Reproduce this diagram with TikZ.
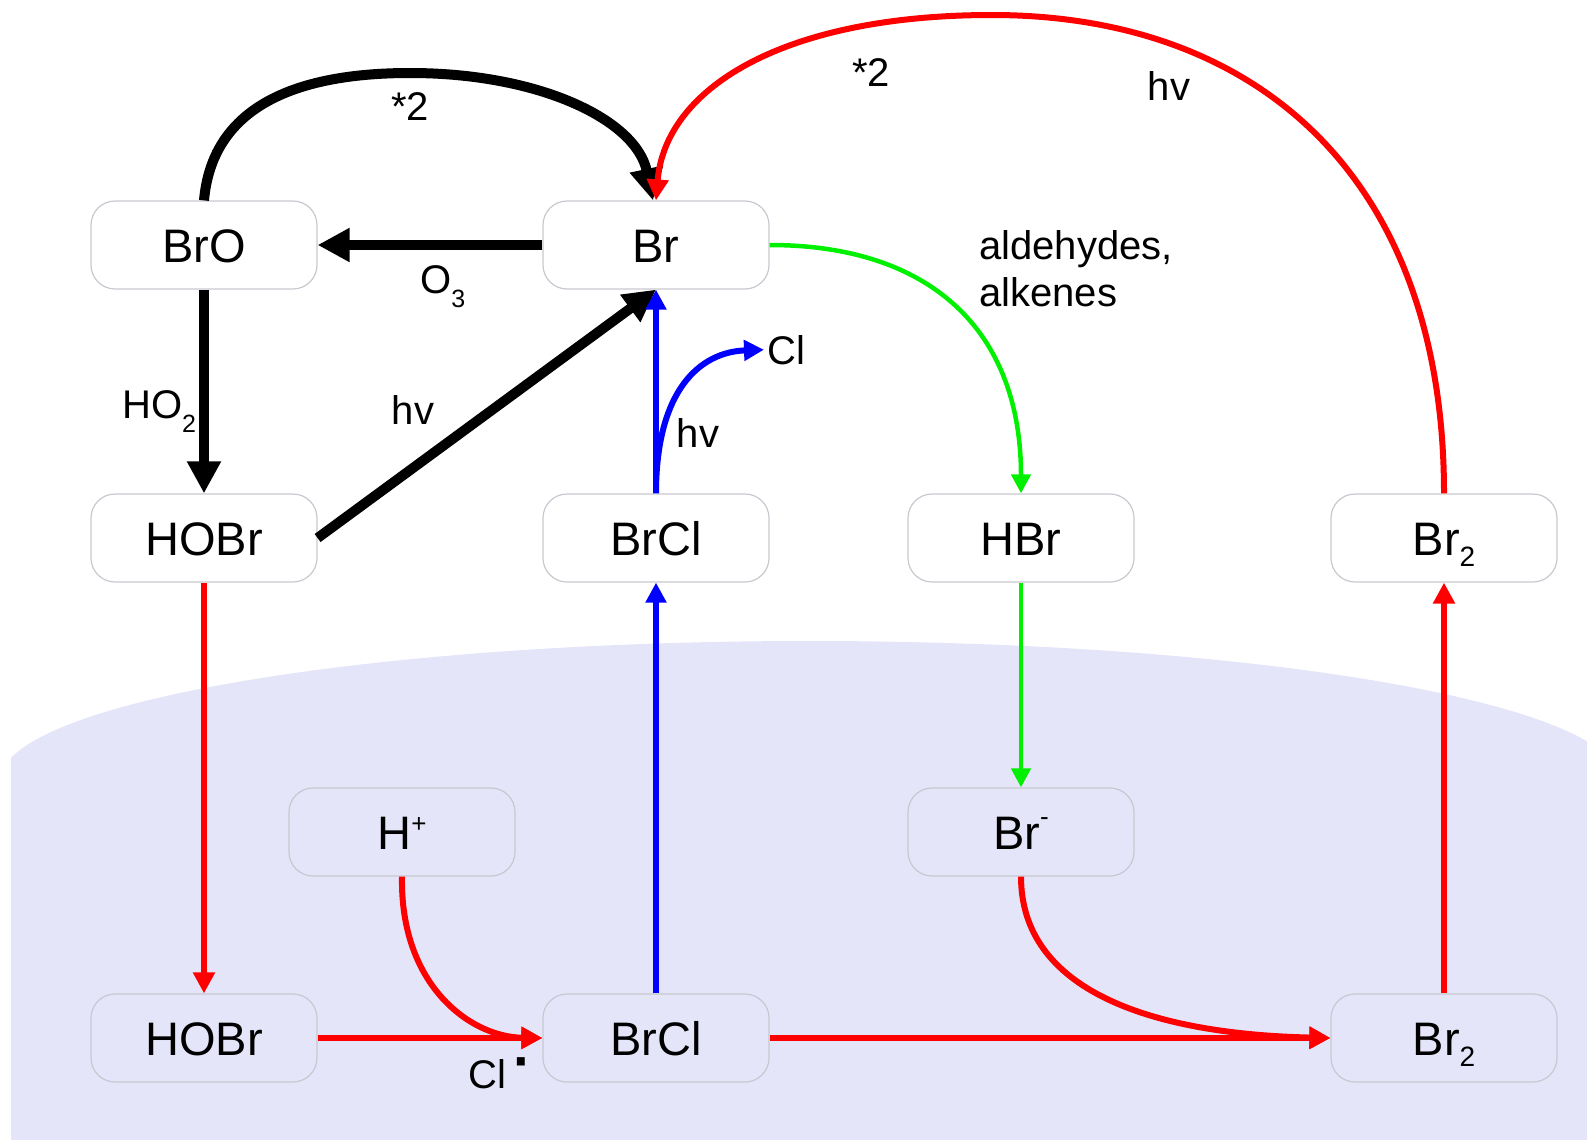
\documentclass[tikz,border=0pt]{standalone}
\usepackage{fontspec}
\setmainfont{Liberation Sans}
\usetikzlibrary{arrows.meta}
\definecolor{bgc}{RGB}{229,229,250}
\definecolor{boxc}{RGB}{200,200,208}
\definecolor{grn}{RGB}{0,240,0}
\newcommand{\mysubB}[1]{\raisebox{-11pt}{\fontsize{28}{28}\selectfont #1}}
\newcommand{\mysubL}[1]{\raisebox{-14pt}{\fontsize{25}{25}\selectfont #1}}
\newcommand{\mysupR}[2]{\raisebox{#1}{\fontsize{26}{26}\selectfont #2}}
\tikzset{
  box/.style={draw=boxc, line width=1.2pt, rounded corners=24pt,
    minimum width=226pt, minimum height=88pt, inner sep=0pt,
    text height=34pt, text depth=0pt, font=\fontsize{47}{47}\selectfont},
  lab/.style={font=\fontsize{40}{40}\selectfont, inner sep=0pt},
  blk/.style={line width=10pt, black, -{Triangle[length=32pt,width=32pt]}},
  redar/.style={line width=6pt, red, -{Triangle[length=21pt,width=21pt]}},
  bluar/.style={line width=6pt, blue, -{Triangle[length=20pt,width=20pt]}},
  grnar/.style={line width=4.5pt, grn, -{Triangle[length=19pt,width=19pt]}}
}
\begin{document}
\begin{tikzpicture}[x=1pt,y=-1pt]
\useasboundingbox (0,0) rectangle (1587,1140);
% background (aqueous phase)
\begin{scope}
  \clip (11,0) rectangle (1587,1140);
  \fill[bgc] (810,781) ellipse [x radius=810, y radius=140];
  \fill[bgc] (0,781) rectangle (1587,1140);
\end{scope}
% boxes
\node[box] (bro)   at (204,245)  {BrO};
\node[box] (br)    at (656,245)  {Br};
\node[box] (hobr1) at (204,538)  {HOBr};
\node[box] (brcl1) at (656,538)  {BrCl};
\node[box] (hbr)   at (1021,538) {HBr};
\node[box] (brt)   at (1444,538) {Br\mysubB{2}};
\node[box] (hp)    at (402,832)  {H\mysupR{17pt}{+}};
\node[box] (brm)   at (1021,832) {Br\mysupR{24pt}{-}};
\node[box] (hobr2) at (204,1038) {HOBr};
\node[box] (brcl2) at (656,1038) {BrCl};
\node[box] (brb)   at (1444,1038) {Br\mysubB{2}};
% labels
\node[lab, anchor=base] (l2a) at (410,120) {*2};
\node[lab, anchor=base] (l2b) at (871,86) {*2};
\node[lab, anchor=base] (lhv1) at (1169,100) {hv};
\node[lab, anchor=base] (lhv2) at (413,424) {hv};
\node[lab, anchor=base] (lhv3) at (698,447) {hv};
\node[lab, anchor=base west] (lo3) at (420,293) {O\mysubL{3}};
\node[lab, anchor=base west] (lho2) at (122,418) {HO\mysubL{2}};
\node[lab, anchor=base west] (lald) at (979,259) {aldehydes,};
\node[lab, anchor=base west] (lalk) at (979,306) {alkenes};
\node[lab, anchor=base west, inner xsep=3pt] (cl) at (764,364) {Cl};
\node[lab, anchor=base west] (clm) at (468,1088) {Cl\hspace{8pt}\raisebox{8pt}{\fontsize{56}{56}\selectfont\bfseries ·}};
% black arrows
\draw[blk] (br.west) -- (bro.east);
\draw[blk] (bro.south) -- (hobr1.north);
\draw[blk] (hobr1.east) -- (br.south);
\draw[blk] (bro.north) .. controls (212,110) and (290,73) .. (410,73)
  .. controls (540,73) and (636,120) .. ([xshift=-3pt]br.north);
% red arrows
\draw[redar] (brt.north) .. controls (1444,180) and (1260,15) .. (992,15)
  .. controls (780,15) and (665,90) .. (br.north);
\draw[redar] (hobr1.south) -- (hobr2.north);
\draw[redar] (hobr2.east) -- (brcl2.west);
\draw[redar] (hp.south) .. controls (400,985) and (470,1037) .. (brcl2.west);
\draw[redar] (brcl2.east) -- (brb.west);
\draw[redar] (brm.south) .. controls (1021,990) and (1150,1034) .. (brb.west);
\draw[redar] (brb.north) -- (brt.south);
% blue arrows
\draw[bluar] (brcl1.north) -- (br.south);
\draw[bluar] (brcl1.north) .. controls (656,390) and (700,352) .. (cl.west);
\draw[bluar] (brcl2.north) -- (brcl1.south);
% green arrows
\draw[grnar] (br.east) .. controls (930,245) and (1021,330) .. (hbr.north);
\draw[grnar] (hbr.south) -- (brm.north);
\end{tikzpicture}
\end{document}
